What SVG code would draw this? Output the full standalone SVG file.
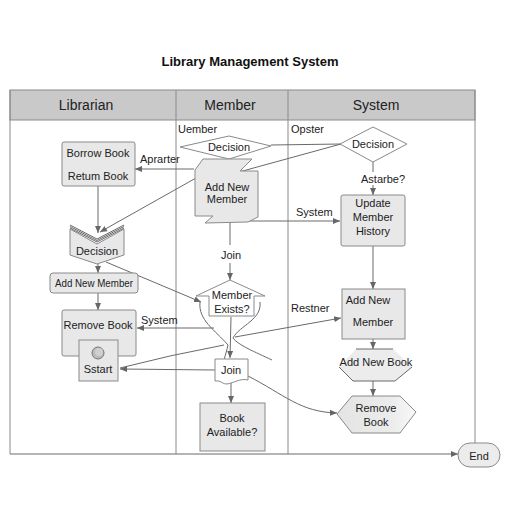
<svg xmlns="http://www.w3.org/2000/svg" width="512" height="512" viewBox="0 0 512 512">
<defs>
<marker id="ah" markerWidth="8" markerHeight="8" refX="7" refY="4" orient="auto" markerUnits="userSpaceOnUse">
<path d="M0,1 L7,4 L0,7 Z" fill="#666"/>
</marker>
<linearGradient id="hexg" x1="0" y1="0" x2="1" y2="0">
<stop offset="0" stop-color="#e4e4e4"/><stop offset="0.7" stop-color="#ececec"/><stop offset="1" stop-color="#f8f8f8"/>
</linearGradient>
</defs>
<style>
text{font-family:"Liberation Sans",Arial,sans-serif;fill:#222;}
.t{font-size:11px;text-anchor:middle;}
.l{font-size:11px;}
.h{font-size:14px;text-anchor:middle;}
.n{fill:#e8e8e8;stroke:#8a8a8a;stroke-width:1;}
.w{fill:#fff;stroke:#8a8a8a;stroke-width:1;}
.c{fill:none;stroke:#6a6a6a;stroke-width:1;}
.ca{fill:none;stroke:#6a6a6a;stroke-width:1;marker-end:url(#ah);}
.lane{fill:none;stroke:#8a8a8a;stroke-width:1;}
</style>
<rect width="512" height="512" fill="#fff"/>
<text x="250" y="66" text-anchor="middle" font-size="13" font-weight="bold" style="fill:#111">Library Management System</text>

<g id="pool">
<rect x="10" y="90" width="465" height="30" fill="#c9c9c9" stroke="#8a8a8a"/>
<line class="lane" x1="10" y1="90" x2="10" y2="454"/>
<line class="lane" x1="176" y1="90" x2="176" y2="454"/>
<line class="lane" x1="288" y1="90" x2="288" y2="454"/>
<line class="lane" x1="475" y1="90" x2="475" y2="445"/>
<text class="h" x="86" y="110">Librarian</text>
<text class="h" x="230" y="110">Member</text>
<text class="h" x="376" y="110">System</text>
</g>

<g id="connectors">
<line class="ca" x1="98" y1="186" x2="98" y2="233"/>
<line class="ca" x1="98" y1="263" x2="98" y2="273"/>
<line class="ca" x1="98" y1="293" x2="98" y2="310"/>
<line class="ca" x1="106" y1="262" x2="201" y2="302"/>
<line class="ca" x1="194" y1="169" x2="135" y2="169"/>
<line class="ca" x1="196" y1="178" x2="100" y2="232"/>
<line class="c" x1="239" y1="172" x2="341" y2="144"/>
<line class="c" x1="271" y1="145" x2="341" y2="144"/>
<line class="ca" x1="248" y1="221" x2="340" y2="221"/>
<line class="c" x1="230" y1="223" x2="230" y2="245"/>
<line class="ca" x1="230" y1="263" x2="230" y2="280"/>
<line class="ca" x1="231" y1="317" x2="230" y2="358"/>
<line class="ca" x1="214" y1="328" x2="137" y2="328"/>
<line class="ca" x1="235" y1="337" x2="341" y2="318"/>
<path class="c" d="M224,345 Q170,355 120,368"/>
<line class="ca" x1="215" y1="370" x2="120" y2="369"/>
<line class="ca" x1="231" y1="382" x2="231" y2="403"/>
<path class="ca" d="M248,376 C285,395 300,412 337,413"/>
<line class="c" x1="373" y1="162" x2="373" y2="172"/>
<line class="ca" x1="373" y1="185" x2="373" y2="195"/>
<line class="ca" x1="373" y1="246" x2="373" y2="289"/>
<line class="ca" x1="373" y1="339" x2="373" y2="349"/>
<line class="ca" x1="373" y1="381" x2="373" y2="396"/>
<line class="ca" x1="10" y1="454" x2="458" y2="454"/>
<text class="l" x="140" y="163">Aprarter</text>
<text class="l" x="296" y="216">System</text>
<text class="t" x="231" y="259">Join</text>
<text class="l" x="141" y="324">System</text>
<text class="l" x="291" y="312">Restner</text>
<text class="t" x="383" y="183">Astarbe?</text>
</g>

<g id="n-borrow">
<rect class="n" x="62" y="142" width="73" height="44" rx="2"/>
<text class="t" x="98" y="157" font-size="10.5">Borrow Book</text>
<text class="t" x="98" y="180" font-size="10.5">Retum Book</text>
</g>

<g id="n-lib-decision">
<polygon class="n" points="70,229 97,244 124,229 124,255 97,264 70,255"/>
<path class="c" d="M70,225 L97,239 L124,225 M70,226.5 L97,240.5 L124,226.5 M70,228 L97,242 L124,228" stroke="#777"/>
<text class="t" x="97" y="255">Decision</text>
</g>

<g id="n-lib-addmember">
<rect class="n" x="50" y="273" width="88" height="20" rx="3"/>
<text class="t" x="94" y="287" font-size="10" textLength="78" lengthAdjust="spacingAndGlyphs">Add New Member</text>
</g>

<g id="n-lib-remove">
<rect class="n" x="62" y="310" width="74" height="46" rx="2"/>
<text class="t" x="98" y="329" font-size="10.5">Remove Book</text>
</g>

<g id="n-start">
<rect class="n" x="79" y="340" width="39" height="41"/>
<circle cx="98" cy="353" r="6" fill="#bbb" stroke="#777"/>
<circle cx="99" cy="352" r="4" fill="#d0d0d0"/>
<text class="t" x="98" y="373">Sstart</text>
</g>

<g id="n-mem-decision">
<text class="l" x="178" y="133">Uember</text>
<polygon class="w" points="180,147 229,136 271,146 229,159"/>
<text class="t" x="229" y="151">Decision</text>
</g>

<g id="n-mem-addmember">
<polygon class="n" points="203,159 252,159 240,171 258,171 258,217 248,222 205,223 213,216 195,216 195,170"/>
<text class="t" x="227" y="191">Add New</text>
<text class="t" x="227" y="203">Member</text>
</g>

<g id="n-member-exists">
<polygon class="w" points="196,296 230,280 265,296 254,296 254,316 209,316 209,296"/>
<path class="c" d="M200,302 C198,320 215,330 228,345 C226,355 222,362 224,370 M260,302 C262,320 240,325 233,338 C238,345 255,352 272,360" stroke="#777"/>
<text class="t" x="232" y="299">Member</text>
<text class="t" x="232" y="313">Exists?</text>
</g>

<g id="n-join">
<path class="w" d="M215,359 L248,359 L248,380 C240,378 234,383 227,384 C223,384 222,382 219,381 L215,381 Z"/>
<text class="t" x="231" y="374">Join</text>
</g>

<g id="n-book-available">
<rect class="n" x="200" y="403" width="65" height="48"/>
<text class="t" x="232" y="422">Book</text>
<text class="t" x="232" y="436">Available?</text>
</g>

<g id="n-sys-decision">
<text class="l" x="291" y="133">Opster</text>
<polygon class="w" points="340,144 373,127 407,144 373,162"/>
<text class="t" x="373" y="148">Decision</text>
</g>

<g id="n-update">
<rect class="n" x="341" y="195" width="64" height="51" rx="2"/>
<text class="t" x="373" y="207">Update</text>
<text class="t" x="373" y="221">Member</text>
<text class="t" x="373" y="235">History</text>
</g>

<g id="n-sys-addmember">
<rect class="n" x="342" y="289" width="63" height="50"/>
<text class="t" x="368" y="304">Add New</text>
<text class="t" x="373" y="326">Member</text>
</g>

<g id="n-addbook">
<polygon points="356,349 393,349 412,367 395,381 353,381 339,367" fill="#ececec"/>
<path class="c" d="M356,349 L393,349 M339,367 L353,381 L395,381 L412,367" stroke="#888"/>
<text class="t" x="376" y="366" font-size="10">Add New Book</text>
</g>

<g id="n-sys-remove">
<polygon points="337,414 352,396 400,396 416,412 400,433 352,433" fill="url(#hexg)" stroke="#8a8a8a"/>
<text class="t" x="376" y="412">Remove</text>
<text class="t" x="376" y="426">Book</text>
</g>

<g id="n-end">
<rect x="458" y="443" width="42" height="24" rx="12" fill="#ececec" stroke="#8a8a8a"/>
<text class="t" x="479" y="460" font-size="12">End</text>
</g>
</svg>
